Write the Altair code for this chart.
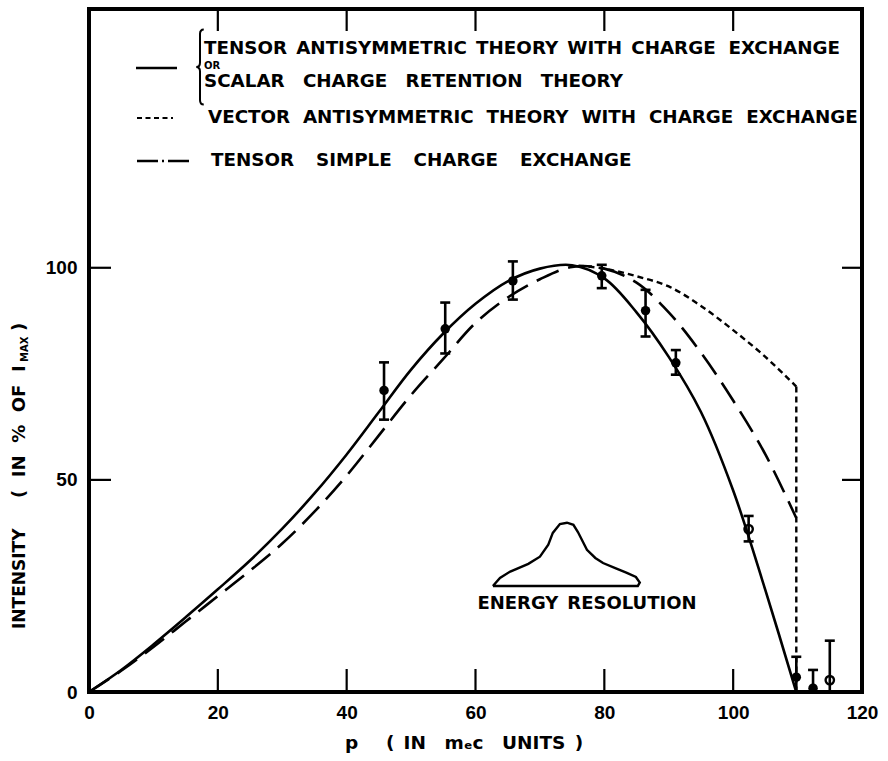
import altair as alt
import pandas as pd

# ---------------- data ----------------
# theory curves: p (m_e c units) vs intensity (% of I_max)
solid_x = [0, 5, 10, 15, 20, 25, 30, 35, 40, 45, 50, 55, 60, 65, 70, 75, 80, 85, 90, 95, 100, 105, 109.8]
solid_y = [0, 5.2, 11.2, 17.6, 24.2, 31, 38.5, 46.8, 56, 66, 76, 84.5, 91.5, 96.8, 99.8, 100.6, 97.5, 89.5, 79, 66, 47.5, 24, 0]

dashed_x = [0, 5, 10, 15, 20, 25, 30, 35, 40, 45, 50, 55, 60, 65, 70, 75, 80, 85, 90, 95, 100, 105, 109.8]
dashed_y = [0, 5, 10.6, 16.6, 22.6, 28.6, 35, 42.5, 51, 60.5, 70, 78.5, 87, 93, 97.3, 100.2, 99.8, 96.5, 89.5, 80, 68.7, 56, 41]

dotted_x = [76, 80, 85, 90, 95, 100, 105, 109.8]
dotted_y = [100.5, 99.8, 98, 95.6, 91, 85.3, 79, 72]

# measured points with error bars
meas_x = [45.8, 55.3, 65.8, 79.6, 86.4, 91.1, 102.4, 109.8, 112.4, 115.0]
meas_y = [71.1, 85.6, 96.9, 98.1, 89.9, 77.6, 38.4, 3.5, 0.9, 2.8]
meas_lo = [64.2, 79.8, 92.5, 95.2, 83.8, 74.8, 35.5, 0, 0, 0]
meas_hi = [77.7, 91.8, 101.5, 100.7, 94.8, 80.6, 41.5, 8.3, 5.2, 12.1]
meas_open = [False, False, False, False, False, False, True, False, False, True]

# energy-resolution sketch (closed outline)
res_x = [62.7, 63.8, 65.4, 68.2, 70.0, 71.3, 72.0, 73.1, 74.2, 75.2, 75.9, 77.3, 78.6, 79.8, 81.7, 83.5, 84.9, 85.5, 85.2, 62.7]
res_y = [25.0, 26.9, 28.4, 30.2, 31.9, 34.7, 37.5, 39.6, 39.9, 39.4, 37.7, 33.5, 31.6, 30.4, 29.2, 28.1, 27.1, 25.8, 25.0, 25.0]

x_labels = [0, 20, 40, 60, 80, 100, 120]
y_labels = [0, 50, 100]
x_tick_marks = [20, 40, 60, 80, 100]
y_tick_marks = [50, 100]

EN = "\u2002"
TH = "\u2009"
legend_1a = EN.join(["TENSOR", "ANTISYMMETRIC", "THEORY", "WITH", "CHARGE"]) + EN + TH + "EXCHANGE"
legend_1b = "OR"
legend_1c = (EN + EN).join(["SCALAR", "CHARGE", "RETENTION", "THEORY"])
legend_2 = (EN + TH).join(["VECTOR", "ANTISYMMETRIC", "THEORY", "WITH", "CHARGE", "EXCHANGE"])
legend_3 = (EN + EN + TH).join(["TENSOR", "SIMPLE", "CHARGE", "EXCHANGE"])
res_label = EN.join(["ENERGY", "RESOLUTION"])
x_title = "p" + EN * 3 + "(" + EN + "IN" + EN * 2 + "mₑc" + EN * 2 + "UNITS" + EN + ")"
y_title_a = "INTENSITY"
y_title_b = (EN + TH).join(["(", "IN", "%", "OF", "I"])
y_title_sub = "MAX"
y_title_end = ")"

# ---------------- layout ----------------
W, H = 773, 683
FONT = "DejaVu Sans"
NUMFONT = "Liberation Sans"
xs = alt.Scale(domain=[0, 120], nice=False, zero=False)
ys = alt.Scale(domain=[0, 161], nice=False, zero=False)
one = pd.DataFrame({"a": [0]})

solid_df = pd.DataFrame({"p": solid_x, "i": solid_y})
dashed_df = pd.DataFrame({"p": dashed_x, "i": dashed_y})
dotted_df = pd.DataFrame({"p": dotted_x, "i": dotted_y})
drop_df = pd.DataFrame({"p": [dotted_x[-1]], "i": [dotted_y[-1]], "i0": [0]})
meas_df = pd.DataFrame({"p": meas_x, "i": meas_y, "lo": meas_lo, "hi": meas_hi, "open": meas_open})
res_df = pd.DataFrame({"p": res_x, "i": res_y, "k": list(range(len(res_x)))})

axis_x = alt.Axis(values=x_labels, title=None, ticks=False, domain=False, grid=False,
                  labelFont=NUMFONT, labelFontSize=19, labelFontWeight="bold",
                  labelColor="black", labelPadding=11, labelFlush=False)
axis_y = alt.Axis(values=y_labels, title=None, ticks=False, domain=False, grid=False,
                  labelFont=NUMFONT, labelFontSize=19, labelFontWeight="bold",
                  labelColor="black", labelPadding=12)


def X(f="p"):
    return alt.X(f + ":Q", scale=xs, axis=axis_x)


def Y(f="i"):
    return alt.Y(f + ":Q", scale=ys, axis=axis_y)


solid = alt.Chart(solid_df).mark_line(color="black", strokeWidth=2.6, interpolate="catmull-rom").encode(
    x=X(), y=Y())
dashed = alt.Chart(dashed_df).mark_line(color="black", strokeWidth=2.6, interpolate="catmull-rom",
                                        strokeDash=[24, 10]).encode(x=X(), y=Y())
dotted = alt.Chart(dotted_df).mark_line(color="black", strokeWidth=2.4, interpolate="catmull-rom",
                                        strokeDash=[6, 4]).encode(x=X(), y=Y())
drop = alt.Chart(drop_df).mark_rule(color="black", strokeWidth=2.4, strokeDash=[6, 4]).encode(
    x=X(), y=Y(), y2="i0:Q")

err = alt.Chart(meas_df).mark_rule(color="black", strokeWidth=2.6).encode(x=X(), y=Y("lo"), y2="hi:Q")
cap_hi = alt.Chart(meas_df).mark_tick(orient="horizontal", size=10, thickness=2.6, color="black", opacity=1).encode(
    x=X(), y=Y("hi"))
cap_lo = alt.Chart(meas_df).transform_filter("datum.lo > 0").mark_tick(
    orient="horizontal", size=10, thickness=2.6, color="black", opacity=1).encode(x=X(), y=Y("lo"))
pts_full = alt.Chart(meas_df).transform_filter("!datum.open").mark_point(
    filled=True, size=90, color="black", opacity=1).encode(x=X(), y=Y())
pts_open = alt.Chart(meas_df).transform_filter("datum.open").mark_point(
    filled=False, size=70, strokeWidth=2.4, color="black", opacity=1).encode(x=X(), y=Y())

res_shape = alt.Chart(res_df).mark_line(color="black", strokeWidth=2.4, interpolate="linear").encode(
    x=X(), y=Y(), order="k:Q")

# ticks drawn inward from the frame
bottom_ticks = alt.Chart(pd.DataFrame({"p": x_tick_marks})).mark_rule(color="black", strokeWidth=2.2).encode(
    x=X(), y=alt.value(H), y2=alt.value(H - 23))
top_ticks = alt.Chart(pd.DataFrame({"p": x_tick_marks})).mark_rule(color="black", strokeWidth=2.2).encode(
    x=X(), y=alt.value(0), y2=alt.value(22))
left_ticks = alt.Chart(pd.DataFrame({"i": y_tick_marks})).mark_rule(color="black", strokeWidth=2.2).encode(
    y=Y(), x=alt.value(0), x2=alt.value(22))
right_ticks = alt.Chart(pd.DataFrame({"i": y_tick_marks})).mark_rule(color="black", strokeWidth=2.2).encode(
    y=Y(), x=alt.value(W), x2=alt.value(W - 20))


def txt(s, x, y, size=18.3, align="left", angle=0, font=FONT, baseline="middle"):
    return alt.Chart(one).mark_text(text=s, align=align, baseline=baseline, fontSize=size,
                                    fontWeight="bold", font=font, angle=angle, color="black").encode(
        x=alt.value(x), y=alt.value(y))


def seg(x1, x2, y, dash=None, sw=2.6):
    kw = dict(color="black", strokeWidth=sw)
    if dash:
        kw["strokeDash"] = dash
    return alt.Chart(one).mark_rule(**kw).encode(x=alt.value(x1), x2=alt.value(x2), y=alt.value(y))


brace_path = "M 0.1 -1 Q 0 -1 0 -0.88 L 0 -0.12 Q 0 0 -0.1 0 Q 0 0 0 0.12 L 0 0.88 Q 0 1 0.1 1"
brace = alt.Chart(one).mark_point(shape=brace_path, size=75 * 75, filled=False, strokeWidth=2,
                                  color="black", opacity=1).encode(x=alt.value(111), y=alt.value(58))

legend = [
    seg(47, 88, 59),
    brace,
    txt(legend_1a, 115, 40),
    txt(legend_1b, 115, 56.5, size=10),
    txt(legend_1c, 115, 73),
    seg(48, 84, 109, dash=[5, 3.5], sw=2.2),
    txt(legend_2, 119, 109),
    seg(48, 100, 152, dash=[21, 4, 2, 4]),
    txt(legend_3, 122, 152),
]

annots = [
    txt(res_label, 498, 595, size=18, align="center"),
    txt(x_title, 375, 734, size=18.5, align="center"),
    txt(y_title_a, -69, 620, size=17, angle=270),
    txt(y_title_b, -69, 489, size=18, angle=270),
    txt(y_title_sub, -64, 353, size=10, angle=270),
    txt(y_title_end, -69, 322, size=18, angle=270),
]

chart = alt.layer(
    solid, dashed, dotted, drop, err, cap_hi, cap_lo, pts_full, pts_open, res_shape,
    bottom_ticks, top_ticks, left_ticks, right_ticks, *legend, *annots
).properties(
    width=W, height=H,
    autosize=alt.AutoSizeParams(type="none"),
    padding={"left": 89, "top": 9, "right": 26, "bottom": 69},
    background="white",
).configure_view(stroke="black", strokeWidth=4)

chart.save("out.html", embed_options={"renderer": "svg", "actions": False})
